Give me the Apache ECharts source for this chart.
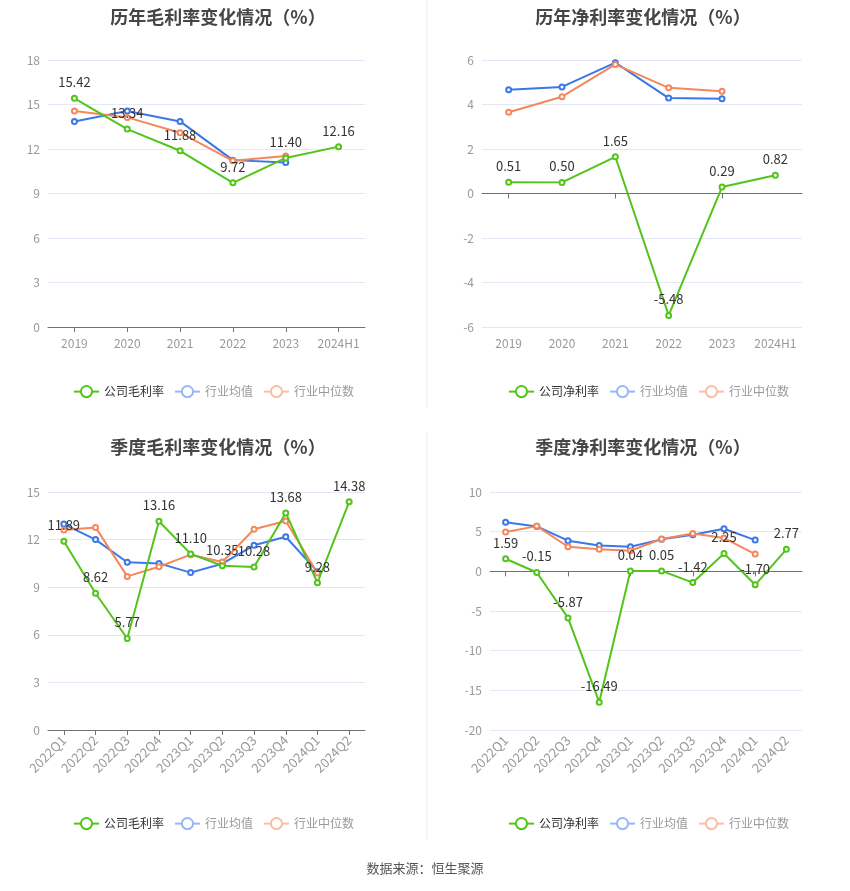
<!DOCTYPE html>
<html>
<head>
<meta charset="utf-8">
<script src="https://cdn.jsdelivr.net/npm/echarts@6/dist/echarts.min.js"></script>
<style>
html,body{margin:0;padding:0;background:#fff;}
#chart{width:850px;height:891px;}
</style>
</head>
<body>
<div id="chart"></div>
<script>
var years = ['2019', '2020', '2021', '2022', '2023', '2024H1'];
var quarters = ['2022Q1', '2022Q2', '2022Q3', '2022Q4', '2023Q1', '2023Q2', '2023Q3', '2023Q4', '2024Q1', '2024Q2'];

// 历年毛利率
var grossYear = [15.42, 13.34, 11.88, 9.72, 11.40, 12.16];
var grossYearAvg = [13.86, 14.56, 13.86, 11.25, 11.09];
var grossYearMid = [14.56, 14.13, 13.10, 11.20, 11.52];
// 历年净利率
var netYear = [0.51, 0.50, 1.65, -5.48, 0.29, 0.82];
var netYearAvg = [4.66, 4.79, 5.88, 4.29, 4.26];
var netYearMid = [3.65, 4.35, 5.80, 4.75, 4.60];
// 季度毛利率
var grossQ = [11.89, 8.62, 5.77, 13.16, 11.10, 10.35, 10.28, 13.68, 9.28, 14.38];
var grossQAvg = [12.98, 12.00, 10.57, 10.50, 9.92, 10.48, 11.64, 12.18, 9.98];
var grossQMid = [12.60, 12.77, 9.68, 10.29, 11.05, 10.59, 12.65, 13.17, 9.90];
// 季度净利率
var netQ = [1.59, -0.15, -5.87, -16.49, 0.04, 0.05, -1.42, 2.25, -1.70, 2.77];
var netQAvg = [6.20, 5.66, 3.86, 3.27, 3.10, 4.03, 4.61, 5.37, 3.94];
var netQMid = [4.95, 5.70, 3.10, 2.77, 2.60, 4.07, 4.78, 4.19, 2.18];

var titles = ['历年毛利率变化情况（%）', '历年净利率变化情况（%）', '季度毛利率变化情况（%）', '季度净利率变化情况（%）'];
var companyNames = ['公司毛利率', '公司净利率', '公司毛利率', '公司净利率'];
var yMin = [0, -6, 0, -20];
var yMax = [18, 6, 15, 10];
var yStep = [3, 2, 3, 5];

var green = '#52c41a', blue = '#3a77e8', orange = '#f5875a';

var grids = [
    {left: 48, right: 485, top: 60, height: 267},
    {left: 482, right: 48, top: 60, height: 267},
    {left: 48, right: 485, top: 492, height: 238},
    {left: 490, right: 48, top: 492, height: 238}
];
var titleX = [213, 638, 213, 638];
var titleY = [3, 3, 433, 433];
var legendX = [68, 503, 68, 503];
var legendY = [380, 380, 812, 812];

var myChart = echarts.init(document.getElementById('chart'));

var option = {
    animation: false,
    textStyle: {fontFamily: '"Noto Sans CJK SC", "Noto Sans", sans-serif'},
    title: [],
    legend: [],
    grid: grids,
    xAxis: [],
    yAxis: [],
    series: [],
    graphic: [
        {type: 'line', shape: {x1: 427, y1: 0, x2: 427, y2: 408}, style: {stroke: '#eeeeee', lineWidth: 1}},
        {type: 'line', shape: {x1: 427, y1: 432, x2: 427, y2: 840}, style: {stroke: '#eeeeee', lineWidth: 1}},
        {type: 'text', left: 'center', top: 862, style: {text: '数据来源：恒生聚源', fill: '#555', fontSize: 13, fontFamily: '"Noto Sans CJK SC", sans-serif'}}
    ]
};

var sets = [
    [years, grossYear, grossYearAvg, grossYearMid],
    [years, netYear, netYearAvg, netYearMid],
    [quarters, grossQ, grossQAvg, grossQMid],
    [quarters, netQ, netQAvg, netQMid]
];

for (var i = 0; i < 4; i++) {
    var cats = sets[i][0];
    var quarterly = i >= 2;
    var hasNeg = yMin[i] < 0;
    option.title.push({
        text: titles[i],
        left: titleX[i],
        top: titleY[i],
        textAlign: 'center',
        textStyle: {fontSize: 18, fontWeight: 'bold', color: '#464646'}
    });
    option.legend.push({
        left: legendX[i],
        top: legendY[i],
        orient: 'horizontal',
        itemWidth: 25,
        itemHeight: 14,
        itemGap: 10,
        selectedMode: false,
        textStyle: {fontSize: 12},
        data: [
            {name: companyNames[i], textStyle: {color: '#333'}},
            {name: '行业均值', itemStyle: {color: '#98b8f5'}, lineStyle: {color: '#98b8f5'}, textStyle: {color: '#999'}},
            {name: '行业中位数', itemStyle: {color: '#f9bea6'}, lineStyle: {color: '#f9bea6'}, textStyle: {color: '#999'}}
        ]
    });
    // label axis (bottom)
    option.xAxis.push({
        type: 'category',
        gridIndex: i,
        data: cats,
        boundaryGap: true,
        position: 'bottom',
        axisLine: {show: !hasNeg, onZero: false, lineStyle: {color: '#6e7079'}},
        axisTick: {show: !hasNeg, alignWithLabel: true, lineStyle: {color: '#6e7079'}},
        axisLabel: {color: '#999', fontSize: quarterly ? 13 : 12, rotate: quarterly ? 45 : 0, interval: 0, margin: quarterly ? 8 : 10},
        splitLine: {show: false}
    });
    option.yAxis.push({
        type: 'value',
        gridIndex: i,
        min: yMin[i],
        max: yMax[i],
        interval: yStep[i],
        axisLine: {show: false},
        axisTick: {show: false},
        axisLabel: {color: '#999', fontSize: 12, margin: 8},
        splitLine: {lineStyle: {color: '#e3e8f4'}}
    });
}

// zero-line axes for the net margin charts
[1, 3].forEach(function (g) {
    option.xAxis.push({
        type: 'category',
        gridIndex: g,
        data: sets[g][0],
        boundaryGap: true,
        position: 'bottom',
        axisLine: {show: true, onZero: true, lineStyle: {color: '#6e7079'}},
        axisTick: {show: true, alignWithLabel: true, lineStyle: {color: '#6e7079'}},
        axisLabel: {show: false},
        splitLine: {show: false}
    });
});

function lineSeries(name, data, color, idx, withLabel) {
    return {
        name: name,
        type: 'line',
        xAxisIndex: idx,
        yAxisIndex: idx,
        data: data,
        symbol: 'emptyCircle',
        symbolSize: 5,
        lineStyle: {width: 2, color: color},
        itemStyle: {color: color, borderWidth: 1.5},
        label: {
            show: withLabel, position: 'top', color: '#333', fontSize: 13, distance: 6,
            formatter: function (p) { return Number(p.value).toFixed(2); }
        },
        z: withLabel ? 3 : 2
    };
}

for (var j = 0; j < 4; j++) {
    option.series.push(lineSeries('行业均值', sets[j][2], blue, j, false));
    option.series.push(lineSeries('行业中位数', sets[j][3], orange, j, false));
    option.series.push(lineSeries(companyNames[j], sets[j][1], green, j, true));
}

myChart.setOption(option);
</script>
</body>
</html>
